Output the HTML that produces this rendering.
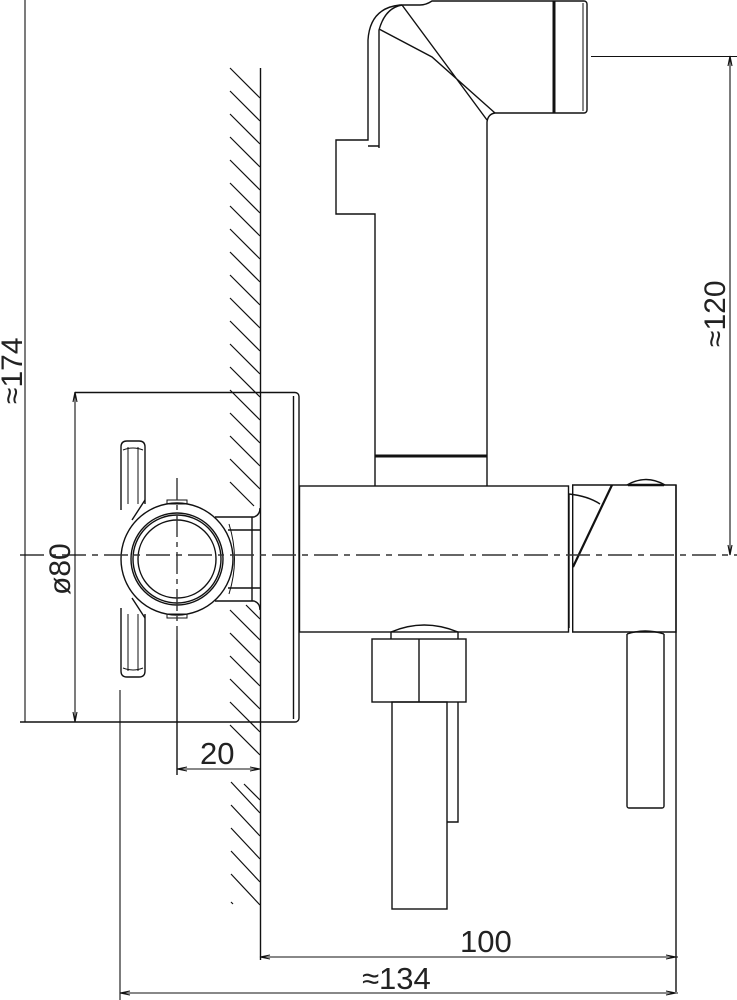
<!DOCTYPE html>
<html><head><meta charset="utf-8"><style>
html,body{margin:0;padding:0;background:#fff;}
svg{display:block;}
text{font-family:"Liberation Sans",sans-serif;fill:#222;}
</style></head><body>
<svg width="737" height="1000" viewBox="0 0 737 1000" xmlns="http://www.w3.org/2000/svg">
<g fill="none" stroke="#111" stroke-width="1.4">
<!-- hatch -->
<g stroke-width="1.2">
<path d="M230 68l30 30M230 91l30 30M230 114l30 30M230 137l30 30M230 160l30 30M230 183l30 30M230 206l30 30M230 229l30 30M230 252l30 30M230 275l30 30M230 298l30 30M230 321l30 30M230 344l30 30M230 367l30 30M230 390l30 30M230 413l30 30M230 436l30 30M230 459l30 30M230 482l24 24M246 605l14 14M230 610l30 30M230 633l30 30M230 656l30 30M230 679l30 30M230 702l30 30M230 725l30 30M244 784l16 16M231 782l29 31M231 805l29 31M231 828l29 31M231 851l29 31M231 874l29 31M231 902l2 2"/>
</g>
<!-- wall line -->
<line x1="260.5" y1="68" x2="260.5" y2="960"/>
<!-- plate -->
<path d="M75 392.5H295a4 4 0 0 1 4 4V718a4 4 0 0 1-4 4H20"/>
<line x1="293.5" y1="396" x2="293.5" y2="719"/>
<!-- main body -->
<rect x="299.5" y="486" width="269" height="146"/>
<!-- upper tube -->
<path d="M375 456V486M487 456V486"/>
<line x1="375" y1="456" x2="487" y2="456" stroke-width="3"/>
<!-- sprayer -->
<path d="M375 456V214H336V140H368V40Q370 8 400 5H420Q426 5 432 1H584a3 3 0 0 1 3 3V110a3 3 0 0 1-3 3H495Q488 114 487 122V456"/>
<path d="M379 148V30Q385 8 402 5M368 146H379"/>
<path d="M402 5L487 120M379 29L432 57L495 113"/>
<line x1="554" y1="1" x2="554" y2="113" stroke-width="3"/>
<line x1="583" y1="3" x2="583" y2="111" stroke-width="1"/>
<!-- right cap -->
<path d="M572.7 632V485H676V632Z"/>
<line x1="612" y1="485" x2="573" y2="567" stroke-width="2.2"/>
<path d="M569 494V628M569 494Q588 496 600 504"/>
<line x1="676" y1="485" x2="676" y2="992"/>
<path d="M627 485Q646 474 665 485" />
<line x1="628" y1="485" x2="664" y2="485" stroke-width="2.5"/>
<!-- lever -->
<path d="M627 634V806a2 2 0 0 0 2 2H662a2 2 0 0 0 2-2V634"/>
<path d="M627 634Q645 628 664 634"/>
<!-- nut -->
<path d="M391 639V632Q424 618 458 632V639"/>
<rect x="372" y="639" width="94" height="63"/>
<line x1="419" y1="639" x2="419" y2="702"/>
<rect x="392" y="702" width="55" height="207"/>
<path d="M447 822H458V702"/>
<!-- valve circle -->
<circle cx="177" cy="559" r="56"/>
<circle cx="177" cy="559" r="46"/>
<circle cx="177" cy="559" r="44"/>
<circle cx="177" cy="559" r="39"/>
<path d="M215 517H254Q260 515 260 508M215 601H254Q260 603 260 610M252 517V601M228 530H260M228 588H260"/>
<path d="M229 524Q240 559 229 594" stroke-width="1"/>
<!-- handle bar -->
<path d="M121 510V447Q121 441 127 441H139Q145 441 145 447V504M121 608V671Q121 677 127 677H139Q145 677 145 671V614"/>
<path d="M128 447V504M138 447V504M128 614V671M138 614V671" stroke-width="1"/>
<path d="M123 450Q133 446 143 450M123 668Q133 672 143 668" stroke-width="1"/>
<path d="M145 500L132 520M145 618L132 598"/>
<rect x="167" y="500" width="20" height="4" stroke-width="1"/>
<rect x="167" y="614" width="20" height="4" stroke-width="1"/>
<!-- center lines -->
<line x1="20" y1="555" x2="737" y2="555" stroke="#333" stroke-dasharray="24 6 6 6"/>
<line x1="177" y1="478" x2="177" y2="640" stroke="#333" stroke-dasharray="22 5 5 5"/>
<line x1="177" y1="640" x2="177" y2="775"/>
<!-- dimensions -->
<g stroke-width="1.1">
<line x1="25" y1="0" x2="25" y2="722"/>
<line x1="75" y1="392" x2="75" y2="722"/>
<line x1="177" y1="769" x2="260" y2="769"/>
<line x1="591" y1="56.5" x2="737" y2="56.5"/>
<line x1="730" y1="56" x2="730" y2="555"/>
<line x1="260" y1="957" x2="678" y2="957"/>
<line x1="120" y1="690" x2="120" y2="1000"/>
<line x1="120" y1="993" x2="678" y2="993"/>
<path d="M73 402L75 392L77 402M73 712L75 722L77 712M187 767L177 769L187 771M250 767L260 769L250 771M728 66L730 56L732 66M728 545L730 555L732 545M270 955L260 957L270 959M666 955L676 957L666 959M130 991L120 993L130 995M666 991L676 993L666 995"/>
</g>
</g>
<text x="200" y="764" font-size="31">20</text>
<text x="460" y="952" font-size="31">100</text>
<text x="362" y="989" font-size="31">≈134</text>
<text transform="translate(22,404) rotate(-90)" font-size="30">≈174</text>
<text transform="translate(70,595) rotate(-90)" font-size="30">ø80</text>
<text transform="translate(725,347) rotate(-90)" font-size="30">≈120</text>
</svg>
</body></html>
